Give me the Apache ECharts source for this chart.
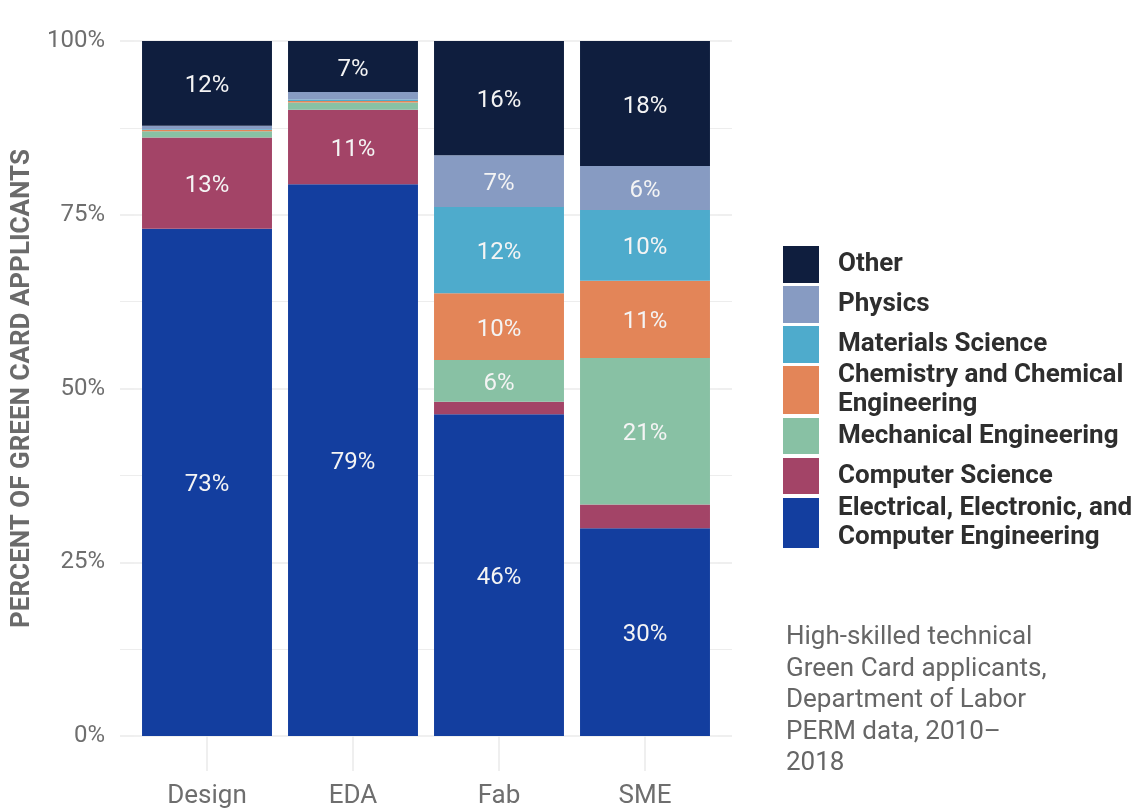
<!DOCTYPE html>
<html>
<head>
<meta charset="utf-8">
<script src="https://cdn.jsdelivr.net/npm/echarts@6/dist/echarts.min.js"></script>
<style>
html,body{margin:0;padding:0;background:#fff;}
#chart{width:1137px;height:809px;}
</style>
</head>
<body>
<div id="chart"></div>
<script>
// ---- data ----
const categories = ['Design', 'EDA', 'Fab', 'SME'];
const seriesNames = [
  'Electrical, Electronic, and\nComputer Engineering',
  'Computer Science',
  'Mechanical Engineering',
  'Chemistry and Chemical\nEngineering',
  'Materials Science',
  'Physics',
  'Other'
];
const eeValues    = [73.0, 79.4, 46.3, 29.9];
const csValues    = [13.1, 10.7, 1.8, 3.4];
const meValues    = [0.9, 1.05, 6.0, 21.1];
const chemValues  = [0.2, 0.2, 9.6, 11.1];
const matValues   = [0.1, 0.25, 12.4, 10.2];
const physValues  = [0.5, 1.05, 7.45, 6.3];
const otherValues = [12.2, 7.35, 16.45, 18.0];
const yTicks = [0, 25, 50, 75, 100];
const seriesColors = ['#133e9f', '#a34467', '#88c1a4', '#e38558', '#4eabcc', '#879bc2', '#0f1e3e'];
const caption = 'High-skilled technical\nGreen Card applicants,\nDepartment of Labor\nPERM data, 2010\u2013\n2018';

const allValues = [eeValues, csValues, meValues, chemValues, matValues, physValues, otherValues];
const gridColor = '#ebebeb';

const series = seriesNames.map((name, i) => ({
  name: name,
  type: 'bar',
  stack: 'total',
  barCategoryGap: '11%',
  data: allValues[i],
  itemStyle: { color: seriesColors[i] },
  label: {
    show: true,
    position: 'inside',
    offset: [0, 3],
    color: '#f4f4f4',
    fontFamily: 'Roboto',
    fontSize: 24,
    formatter: p => (p.value >= 4.5 ? Math.round(p.value) + '%' : '')
  },
  emphasis: { disabled: true }
}));

// legend layout: groups of legend entries (top to bottom), each with its own key height
const legendText = {
  color: '#2e2e2e', fontSize: 26, fontWeight: 'bold', fontFamily: 'Roboto',
  lineHeight: 28.5, padding: [5, 0, 0, 14]
};
const legendGroups = [
  { names: [seriesNames[6], seriesNames[5], seriesNames[4]], top: 246, h: 37, gap: 3 },
  { names: [seriesNames[3]], top: 359, h: 48, gap: 3 },
  { names: [seriesNames[2], seriesNames[1]], top: 418, h: 36, gap: 4 },
  { names: [seriesNames[0]], top: 492, h: 50, gap: 3 }
];
const legends = legendGroups.map(g => ({
  orient: 'vertical',
  left: 783,
  top: g.top,
  padding: 0,
  itemWidth: 36,
  itemHeight: g.h,
  itemGap: g.gap,
  icon: 'rect',
  selectedMode: false,
  data: g.names,
  textStyle: legendText
}));

const chart = echarts.init(document.getElementById('chart'), null, { renderer: 'canvas' });
chart.setOption({
  animation: false,
  backgroundColor: '#ffffff',
  textStyle: { fontFamily: 'Roboto' },
  grid: { left: 134, right: 419, top: 41, bottom: 73, containLabel: false },
  xAxis: [
    {
      type: 'category',
      data: categories,
      position: 'bottom',
      axisLine: { show: false },
      axisTick: { show: true, alignWithLabel: true, length: 35, lineStyle: { color: gridColor, width: 1.6 } },
      axisLabel: { color: '#6e6e6e', fontSize: 26, fontFamily: 'Roboto', margin: 47 },
      splitLine: { show: false }
    },
    {
      type: 'category',
      data: categories,
      position: 'top',
      axisLine: { show: false },
      axisTick: { show: true, alignWithLabel: true, length: 35, lineStyle: { color: gridColor, width: 1.6 } },
      axisLabel: { show: false },
      splitLine: { show: false }
    }
  ],
  yAxis: [
    {
      type: 'value',
      min: yTicks[0],
      max: yTicks[yTicks.length - 1],
      interval: yTicks[1] - yTicks[0],
      position: 'left',
      name: 'PERCENT OF GREEN CARD APPLICANTS',
      nameLocation: 'middle',
      nameGap: 99,
      nameTextStyle: { color: '#6b6b6b', fontSize: 26, fontWeight: 'bold', fontFamily: 'Roboto' },
      axisLine: { show: false },
      axisTick: { show: true, length: 14, lineStyle: { color: gridColor, width: 1.6 } },
      minorTick: { show: true, splitNumber: 2, length: 14, lineStyle: { color: gridColor, width: 0.9 } },
      axisLabel: { color: '#6e6e6e', fontSize: 24, fontFamily: 'Roboto', margin: 29, formatter: '{value}%' },
      splitLine: { show: true, lineStyle: { color: gridColor, width: 1.6 } },
      minorSplitLine: { show: true, lineStyle: { color: gridColor, width: 0.9 } }
    },
    {
      type: 'value',
      min: yTicks[0],
      max: yTicks[yTicks.length - 1],
      interval: yTicks[1] - yTicks[0],
      position: 'right',
      axisLine: { show: false },
      axisTick: { show: true, length: 14, lineStyle: { color: gridColor, width: 1.6 } },
      minorTick: { show: true, splitNumber: 2, length: 14, lineStyle: { color: gridColor, width: 0.9 } },
      axisLabel: { show: false },
      splitLine: { show: false }
    }
  ],
  legend: legends,
  graphic: [
    {
      type: 'text',
      left: 786,
      top: 622,
      style: {
        text: caption,
        fill: '#666666',
        font: '26px Roboto',
        lineHeight: 31.5
      }
    }
  ],
  series: series
});
</script>
</body>
</html>
